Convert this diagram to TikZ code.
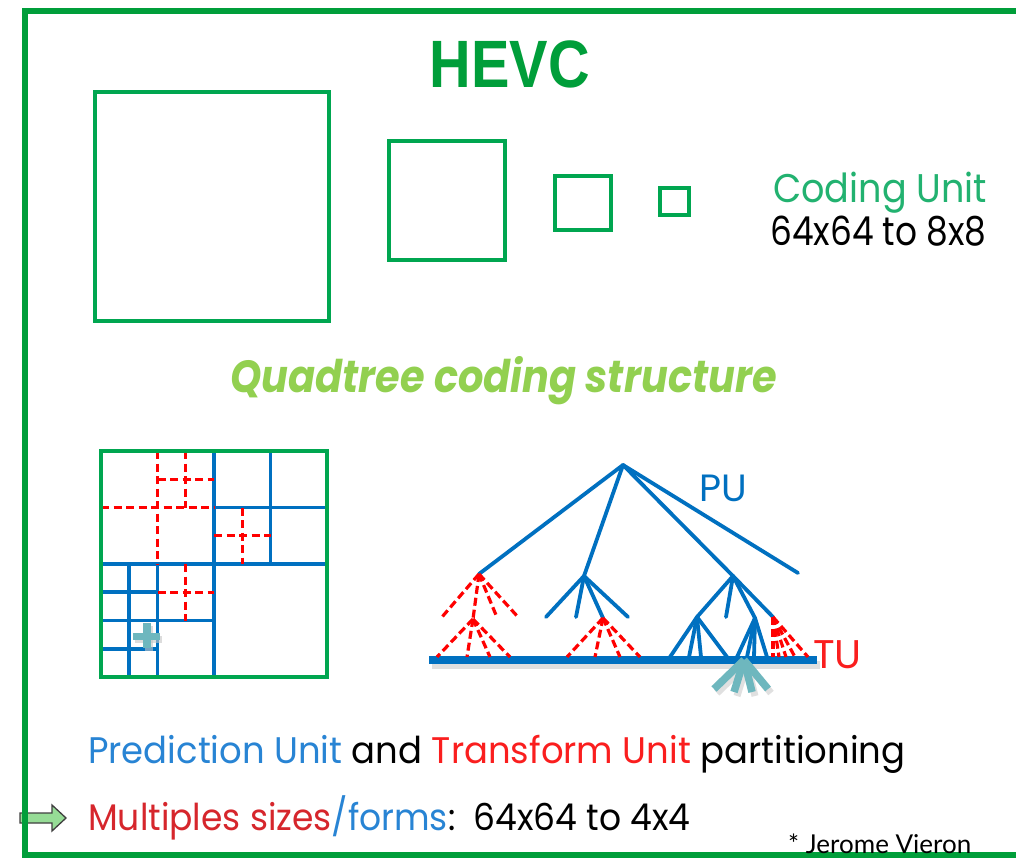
\documentclass[tikz,border=0pt]{standalone}
\usepackage{fontspec}
\setmainfont{Poppins}
\newfontfamily\titlefont{Liberation Sans}
\newfontfamily\notefont{Lato}
\definecolor{framegreen}{RGB}{0,158,58}
\definecolor{cugreen}{RGB}{0,166,80}
\definecolor{cutext}{RGB}{34,178,112}
\definecolor{qtgreen}{RGB}{146,208,80}
\definecolor{pblue}{RGB}{0,112,192}
\definecolor{tred}{RGB}{255,0,0}
\definecolor{txtblue}{RGB}{40,132,212}
\definecolor{txtred}{RGB}{250,30,30}
\definecolor{darkred}{RGB}{214,38,44}
\definecolor{teal}{RGB}{110,183,190}
\definecolor{arrowgreen}{RGB}{150,220,150}
\begin{document}
\begin{tikzpicture}[x=1pt,y=-1pt,
  cubox/.style={draw=cugreen,line width=3.5pt},
  puline/.style={draw=pblue,line width=3.6pt},
  tuline/.style={draw=tred,line width=3pt,dash pattern=on 8pt off 4.5pt},
  treeline/.style={draw=pblue,line width=3.8pt,line cap=round},
  treedash/.style={draw=tred,line width=3.2pt,dash pattern=on 8pt off 4pt},
  tealbar/.style={draw=teal,line width=7.5pt},
  label/.style={inner sep=0pt,anchor=base west}]
\useasboundingbox (0,0) rectangle (1016,858);
\clip (0,0) rectangle (1016,858);
\fill[white] (0,0) rectangle (1016,858);

% outer frame
\draw[framegreen,line width=6.5pt] (25,11) rectangle (1060,855);

% title
\node[inner sep=0pt,anchor=base,text=framegreen] (title) at (510,88)
  {\titlefont\fontsize{67}{67}\selectfont\bfseries\scalebox{0.86}[1]{HEVC}};

% coding unit sizes
\draw[cubox] (95,92) rectangle (329,321);
\draw[cubox] (389,141) rectangle (505,260);
\draw[cubox] (555,176) rectangle (611,230);
\draw[cubox] (660,188) rectangle (689,215);
\node[label,text=cutext] (cu) at (773,203)
  {\fontsize{40}{40}\selectfont\scalebox{0.915}[1]{Coding Unit}};
\node[label] (cusize) at (770,246)
  {\fontsize{40}{40}\selectfont\scalebox{0.86}[1]{64x64 to 8x8}};

\node[label,text=qtgreen] (qt) at (230,392)
  {\fontsize{45}{45}\selectfont\bfseries\itshape\scalebox{0.886}[1]{Quadtree coding structure}};

% quadtree partition of one coding unit
\draw[puline] (214,451) -- (214,677);
\draw[puline] (101,564) -- (327,564);
\draw[puline] (270.5,451) -- (270.5,564);
\draw[puline] (214,507.5) -- (327,507.5);
\draw[puline] (157.5,564) -- (157.5,677);
\draw[puline] (101,620.5) -- (214,620.5);
\draw[puline] (129.25,564) -- (129.25,677);
\draw[puline] (101,592.25) -- (157.5,592.25);
\draw[puline] (101,648.75) -- (157.5,648.75);
\draw[tuline] (157.5,451) -- (157.5,564);
\draw[tuline] (101,507.5) -- (214,507.5);
\draw[tuline] (185.75,451) -- (185.75,507.5);
\draw[tuline] (157.5,479.25) -- (214,479.25);
\draw[tuline] (242.25,507.5) -- (242.25,564);
\draw[tuline] (214,535.75) -- (270.5,535.75);
\draw[tuline] (185.75,564) -- (185.75,620.5);
\draw[tuline] (157.5,592.25) -- (214,592.25);
\draw[draw=cugreen,line width=4.5pt] (101,451) rectangle (327,677);
% small marker
\fill[gray!45,opacity=0.6] (135,636) rectangle (162,643);
\fill[gray!45,opacity=0.6] (145,626) rectangle (153,651);
\fill[teal] (133,633) rectangle (160,640);
\fill[teal] (143,623) rectangle (151,648);

% tree: nodes
\coordinate (root) at (623,465);
\coordinate (A) at (479,574);
\coordinate (B) at (584,576);
\coordinate (C) at (733,576);
\coordinate (D) at (798,573);
\coordinate (a1) at (442,617);
\coordinate (A2) at (473,619);
\coordinate (a3) at (496,615);
\coordinate (a4) at (518,617);
\coordinate (b1) at (546,617);
\coordinate (b2) at (576,617);
\coordinate (B3) at (603,618);
\coordinate (b4) at (628,617);
\coordinate (C1) at (697,617);
\coordinate (c2) at (726,617);
\coordinate (C3) at (755,618);
\coordinate (C4) at (773,617);

% baseline with shadow
\fill[gray!35,opacity=0.7] (432,661) rectangle (820,669);
\fill[pblue] (429,656) rectangle (817,664);
\coordinate (base) at (429,660);

% prediction unit branches
\foreach \n in {A,B,C,D} \draw[treeline] (root) -- (\n);
\foreach \n in {b1,b2,B3,b4} \draw[treeline] (B) -- (\n);
\foreach \n in {C1,c2,C3,C4} \draw[treeline] (C) -- (\n);
\foreach \x in {670,689,701,727} {\coordinate (e) at (\x,657); \draw[treeline] (C1) -- (e);}
\foreach \x in {737,747,754,767} {\coordinate (e) at (\x,657); \draw[treeline] (C3) -- (e);}

% transform unit branches
\foreach \n in {a1,A2,a3,a4} \draw[treedash] (A) -- (\n);
\foreach \x in {437,467,490,510} {\coordinate (e) at (\x,657); \draw[treedash] (A2) -- (e);}
\foreach \x in {567,595,620,640} {\coordinate (e) at (\x,657); \draw[treedash] (B3) -- (e);}
\foreach \x in {773,779,786,795,808} {\coordinate (e) at (\x,657); \draw[treedash] (C4) -- (e);}

% tree labels
\node[label,text=pblue] (pu) at (699,501) {\fontsize{38}{38}\selectfont PU};
\node[label,text=txtred] (tu) at (813,668) {\fontsize{40}{40}\selectfont TU};

% teal tuft below the baseline
\coordinate (tuft) at (744,660);
\foreach \x/\y in {714/689,734/692,752/692,768/689} {
  \coordinate (t) at (\x+3,\y+4);
  \draw[gray!40,line width=7pt,opacity=0.6] ([shift={(3,4)}]tuft) -- (t);
}
\foreach \x/\y in {714/689,734/692,752/692,768/689} {
  \coordinate (t) at (\x,\y);
  \draw[tealbar] (tuft) -- (t);
}

% captions
\node[label] (cap1) at (88,763) {\fontsize{37}{37}\selectfont\scalebox{0.957}[1]{%
  \textcolor{txtblue}{Prediction Unit} and \textcolor{txtred}{Transform Unit} partitioning}};

\draw[draw=black!75,fill=arrowgreen,line width=1.3pt,line join=miter]
  (20,813) -- (52,813) -- (52,805) -- (66,818) -- (52,831) -- (52,823) -- (20,823) -- cycle;
\draw[framegreen,line width=6.5pt] (25,790) -- (25,855);
\node[label] (cap2) at (88,830) {\fontsize{37}{37}\selectfont\scalebox{0.933}[1]{%
  \textcolor{darkred}{Multiples sizes}\textcolor{txtblue}{/forms}:\ \ 64x64 to 4x4}};

\node[label] (credit) at (788,853) {\notefont\fontsize{26}{26}\selectfont * Jerome Vieron};
\end{tikzpicture}
\end{document}
